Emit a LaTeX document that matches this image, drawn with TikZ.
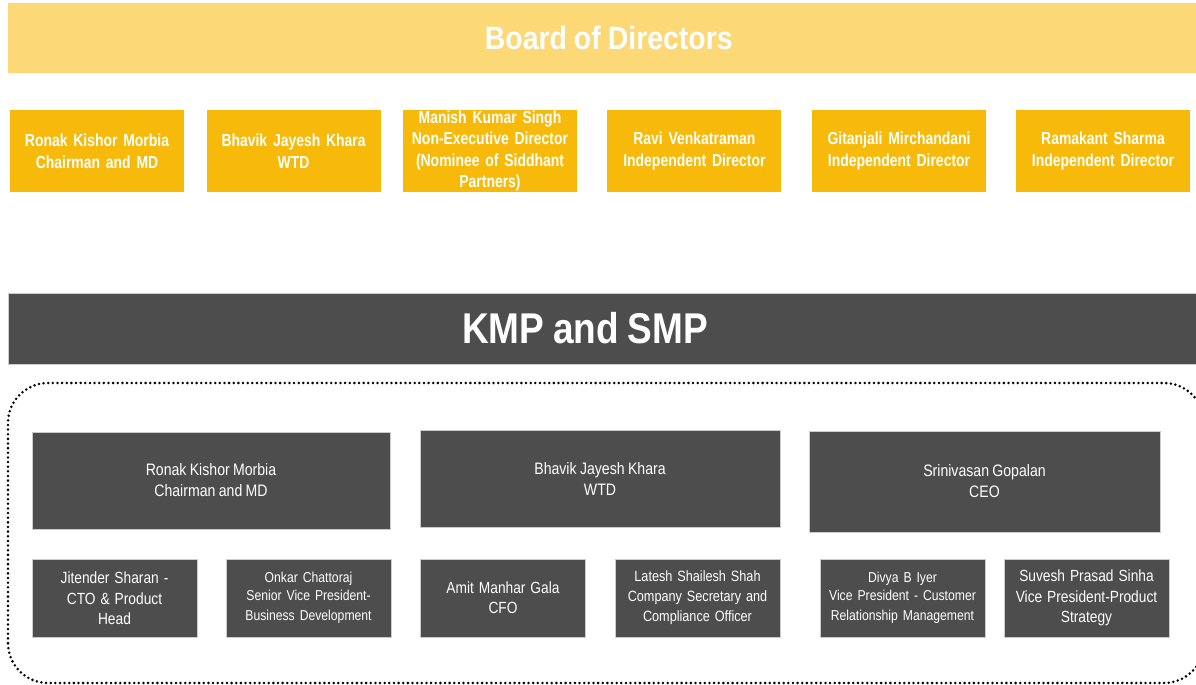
\documentclass[tikz,border=0pt]{standalone}
\usepackage{fontspec}
\setmainfont{Liberation Sans}
\newfontfamily\narrowfont{Liberation Sans}[FakeStretch=0.85,WordSpace=0.85]
\newfontfamily\boardfont{Liberation Sans}[FakeStretch=0.8,WordSpace=0.8]
\newfontfamily\titlefont{Liberation Sans}[FakeStretch=0.88,WordSpace=0.88]
\newfontfamily\kmpfont{Liberation Sans}[FakeStretch=0.86,WordSpace=0.86]
\usepackage{xcolor}
\definecolor{BannerGold}{HTML}{FDD877}
\definecolor{BoardGold}{HTML}{F7BA0B}
\definecolor{SlateDark}{HTML}{4D4D4D}
\newcommand\smallrole{\fontsize{10.2}{13.2}\selectfont}
\newcommand\largerole{\fontsize{11.5}{15}\selectfont}
\tikzset{
  banner node/.style={inner sep=0pt,minimum width=297mm},
  banner title/.style={inner sep=0pt,text=white},
  board node/.style={fill=BoardGold,text=white,align=center,inner sep=0pt,
    minimum width=43.5mm,minimum height=20.5mm,text width=43mm,
    font=\boardfont\bfseries\fontsize{12.4}{15.4}\selectfont},
  kmp node/.style={fill=SlateDark,draw=black!20,line width=0.4pt,text=white,align=center,
    inner sep=0pt,font=\narrowfont\fontsize{10.6}{14.2}\selectfont},
  head node/.style={kmp node,minimum height=24.25mm,font=\narrowfont\fontsize{11.8}{15}\selectfont},
  staff node/.style={kmp node,minimum width=41.25mm,minimum height=19.5mm,text width=40.5mm}
}

\begin{document}
\begin{tikzpicture}
  \useasboundingbox (0,0) rectangle (29.9,17.125);
  \node[banner node,fill=BannerGold,minimum height=17.5mm] (board) at (15.05,16.175) {};
  \node[banner title,font=\titlefont\bfseries\fontsize{23}{26}\selectfont] (boardtitle) at (15.22,16.175) {Board of Directors};
  \foreach \x/\name [count=\i] in {2.425/{Ronak Kishor Morbia\\Chairman and MD},
      7.34/{Bhavik Jayesh Khara\\WTD},
      12.25/{Manish Kumar Singh\\Non-Executive Director\\(Nominee of Siddhant\\Partners)},
      17.36/{Ravi Venkatraman\\Independent Director},
      22.475/{Gitanjali Mirchandani\\Independent Director},
      27.575/{Ramakant Sharma\\Independent Director}}{
    \node[board node] (dir\i) at (\x,13.35) {\name};
  }
  \node[banner node,fill=SlateDark,draw=black!20,minimum height=17.75mm] (kmp) at (15.05,8.9125) {};
  \node[banner title,font=\kmpfont\bfseries\fontsize{30.6}{34}\selectfont] (kmptitle) at (14.63,8.9125) {KMP and SMP};
  \draw[line width=2pt,dash pattern=on 0pt off 3.3pt,line cap=round,rounded corners=10mm]
    (0.2,0.05) rectangle (30.1,7.55);
  \node[head node,minimum width=89.5mm] (ronak) at (5.275,5.1125) {Ronak Kishor Morbia\\Chairman and MD};
  \node[head node,minimum width=90mm] (bhavik) at (15.0,5.16) {Bhavik Jayesh Khara\\WTD};
  \node[head node,minimum width=87.75mm,minimum height=25.25mm] (srini) at (24.6125,5.0875) {Srinivasan Gopalan\\CEO};
  \foreach \x/\name [count=\i] in {2.8625/{\largerole Jitender Sharan -\\CTO \& Product\\Head},
      7.7125/{\smallrole Onkar Chattoraj\\Senior Vice President-\\Business Development},
      12.575/{\largerole Amit Manhar Gala\\CFO},
      17.4375/{Latesh Shailesh Shah\\Company Secretary and\\Compliance Officer},
      22.5625/{\smallrole Divya B Iyer\\Vice President - Customer\\Relationship Management},
      27.1625/{\largerole Suvesh Prasad Sinha\\Vice President-Product\\Strategy}}{
    \node[staff node] (staff\i) at (\x,2.175) {\name};
  }
\end{tikzpicture}
\end{document}
